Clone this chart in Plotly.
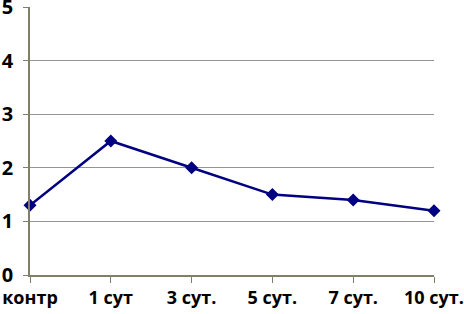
import plotly.graph_objects as go

categories = ["контр", "1 сут", "3 сут.", "5 сут.", "7 сут.", "10 сут."]
values = [1.3, 2.5, 2.0, 1.5, 1.4, 1.2]
y_min, y_max, y_step = 0, 5, 1

fig = go.Figure()
fig.add_trace(go.Scatter(
    x=list(range(len(categories))), y=values, mode="lines+markers",
    line=dict(color="#000080", width=2.5),
    marker=dict(symbol="diamond", size=10, color="#000080"),
    cliponaxis=False,
))
fig.update_layout(
    width=464, height=314,
    margin=dict(l=30, r=30, t=7, b=39),
    paper_bgcolor="white", plot_bgcolor="white",
    showlegend=False,
    font=dict(family="Open Sans, Liberation Sans, sans-serif", color="black"),
)
fig.update_xaxes(
    range=[0, 5], tickvals=list(range(len(categories))), ticktext=categories,
    showgrid=False, showline=True, linecolor="#7f7f6a", linewidth=1.5,
    ticks="outside", ticklen=6, tickcolor="#7f7f6a",
    tickfont=dict(size=18, family="Open Sans", weight="bold"),
    zeroline=False, automargin=False,
)
fig.update_yaxes(
    range=[y_min, y_max], tickmode="linear", tick0=y_min, dtick=y_step,
    showgrid=True, gridcolor="#949494", gridwidth=1,
    showline=True, linecolor="#7f7f6a", linewidth=1.5,
    ticks="outside", ticklen=5, tickcolor="#7f7f6a",
    tickfont=dict(size=20, family="Open Sans", weight="bold"),
    ticklabelstandoff=6, ticklabeloverflow="allow",
    zeroline=False, automargin=False,
)
fig.write_html(
    "out.html",
    config={"displayModeBar": False},
    post_script="document.body.style.margin='0';document.body.style.overflow='hidden';",
)
